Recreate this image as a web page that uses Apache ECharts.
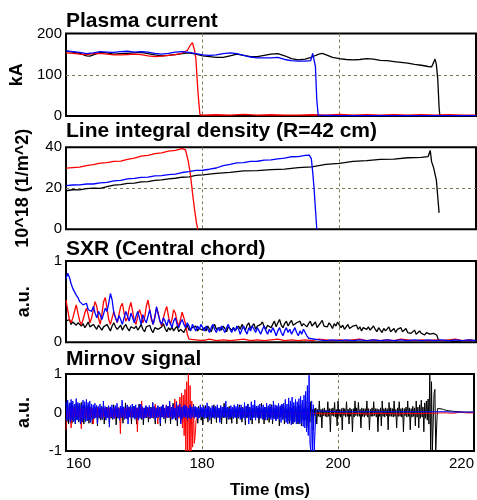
<!DOCTYPE html>
<html><head><meta charset="utf-8">
<script src="https://cdn.jsdelivr.net/npm/echarts@6/dist/echarts.min.js"></script>
<style>html,body{margin:0;padding:0;background:#fff}#c{width:477px;height:500px}</style>
</head><body><div id="c"></div>
<script>
// ---------- DATA ----------
const xTicks = [160, 180, 200, 220];
const panelTitles = ['Plasma current', 'Line integral density (R=42 cm)', 'SXR (Central chord)', 'Mirnov signal'];
const yNames = ['kA', '10^18 (1/m^2)', 'a.u.', 'a.u.'];
const xName = 'Time (ms)';

// Plasma current (kA): [time ms, value]
const ipBlack = [[160,158],[160.5,156],[161,155],[162,152],[163,146],[163.5,145],[164,148],[165,154],[166,153],[167,150],[168,151],[169,152],[170,153],[171,154],[172,151],[173,148],[174,146],[175,147],[176,149],[177,151],[178,153],[179,150],[180,146],[181,144],[182,142],[183,142],[184,146],[185,150],[186,147],[187,144],[188,144],[189,147],[190,150],[191,151],[192,146],[193,139],[194,136],[195,138],[196,143],[197,150],[197.5,152],[198,149],[199,142],[200,139],[201,137],[202,136],[203,137],[204,139],[205,138],[206,135],[207,134],[208,132],[209,130],[210,128],[211,125],[212,123],[213,120],[213.5,119],[213.8,130],[214,138],[214.2,125],[214.4,90],[214.6,20],[214.7,2],[216,1],[218,1],[220,1]];
const ipRed = [[160,153],[161,152],[162,150],[163,149],[164,151],[165,152],[166,150],[167,148],[168,148],[169,149],[170,150],[171,149],[172,146],[173,144],[174,145],[175,147],[176,149],[177,152],[177.8,160],[178.2,172],[178.5,178],[178.8,160],[179,140],[179.3,60],[179.6,3],[180,2],[182,3],[184,2],[186,4],[188,2],[190,3],[192,2],[194,2],[196,3],[198,2],[200,4],[202,2],[204,3],[206,2],[208,3],[210,2],[212,3],[214,2],[216,3],[218,2],[220,2]];
const ipBlue = [[160,158],[161,156],[162,154],[163,151],[164,153],[165,156],[166,155],[167,154],[168,156],[169,157],[170,155],[171,156],[172,155],[173,152],[174,150],[175,152],[176,155],[177,156],[178,154],[179,151],[180,148],[181,147],[182,148],[183,151],[184,153],[185,151],[186,147],[187,143],[188,141],[189,141],[190,141],[191,142],[192,137],[193,134],[194,133],[195,133],[195.8,134],[196.1,152],[196.3,156],[196.5,120],[196.7,40],[196.9,2],[200,1],[205,1],[210,1],[215,1],[220,1]];

// Line integral density (10^18 1/m^2)
const neBlack = [[160,18.8],[161,19.3],[162,19.2],[163,19.8],[164,20.1],[165,20.0],[166,20.8],[167,21.5],[168,21.8],[169,22.4],[170,22.5],[171,23.1],[172,23.3],[173,23.9],[174,24.1],[175,24.6],[176,24.9],[177,25.4],[178,25.6],[179,26.3],[180,26.5],[182,27.3],[184,27.8],[186,28.5],[188,28.6],[190,29.1],[192,29.4],[194,30.1],[196,30.5],[198,31.7],[200,32.2],[202,33.1],[204,33.5],[206,34.1],[208,34.2],[210,34.9],[212,35.1],[213,35.5],[213.3,38.5],[213.5,33],[213.8,30],[214.2,24],[214.4,16],[214.6,8]];
const neRed = [[160,29.8],[161,30.1],[162,30.3],[163,31.1],[164,31.5],[165,32.3],[166,32.5],[167,33.1],[168,33.3],[169,34.1],[170,34.7],[171,35.7],[172,36.1],[173,36.9],[174,37.3],[175,38.1],[176,38.5],[177,39.3],[177.5,38.7],[177.9,33],[178.2,27],[178.5,18],[178.8,10],[179.1,3],[179.3,0]];
const neBlue = [[160,21.3],[161,21.6],[162,21.7],[163,22.1],[164,22.1],[165,22.6],[166,22.9],[167,23.6],[168,23.9],[169,24.6],[170,24.8],[171,25.3],[172,25.5],[173,26.1],[174,26.2],[175,26.7],[176,26.9],[177,27.7],[178,28.1],[179,28.7],[180,28.8],[181,29.3],[182,29.9],[183,31.1],[184,31.7],[185,32.4],[186,32.5],[187,33.1],[188,33.2],[189,33.7],[190,33.9],[191,34.4],[192,34.7],[193,35.4],[194,35.5],[195,36.1],[195.6,36.2],[195.9,34.5],[196.1,28],[196.3,20],[196.5,10],[196.7,0]];

// SXR (a.u.) sampled every 0.25 ms from 160 ms; tails sampled every 1 ms
const sxrRed = [.52,.40,.28,.24,.30,.38,.46,.36,.26,.22,.28,.36,.42,.34,.24,.30,.40,.50,.44,.30,.22,.34,.50,.55,.42,.28,.22,.30,.38,.30,.24,.34,.44,.48,.36,.26,.30,.42,.49,.38,.26,.22,.32,.40,.34,.24,.30,.44,.52,.40,.28,.22,.32,.42,.36,.26,.20,.30,.38,.44,.32,.22,.28,.40,.36,.26,.20,.28,.37,.30,.22,.10,.04];
const sxrRedTail = [.03,.02,.04,.02,.03,.02,.03,.04,.02,.03,.02,.03,.04,.02,.03,.02,.03,.02,.04,.03,.02,.03,.02,.03,.04,.02,.03,.02,.03,.02,.04,.03,.02,.03,.02,.03,.02,.03,.04,.02,.03,.02];
const sxrBlue = [.78,.85,.80,.72,.66,.62,.58,.55,.50,.52,.46,.44,.48,.40,.42,.38,.44,.36,.30,.38,.34,.28,.35,.42,.38,.48,.60,.52,.36,.30,.25,.33,.28,.22,.30,.38,.32,.26,.36,.30,.24,.32,.38,.30,.22,.34,.28,.24,.32,.40,.30,.22,.30,.44,.34,.26,.22,.30,.26,.20,.28,.24,.18,.26,.30,.22,.18,.24,.28,.22,.18,.24,.20,.14,.22,.18,.14,.20,.16,.22,.18,.14,.20,.16,.12,.18,.22,.16,.12,.18,.14,.20,.16,.12,.18,.22,.16,.12,.18,.14,.20,.16,.10,.16,.20,.14,.10,.18,.14,.20,.16,.12,.18,.14,.10,.16,.20,.14,.10,.16,.12,.18,.14,.08,.14,.18,.12,.08,.14,.18,.12,.16,.10,.14,.18,.12,.08,.14,.10,.16,.12,.08,.05,.03];
const sxrBlueTail = [.03,.02,.03,.02,.03,.02,.03,.02,.03,.02,.03,.02,.03,.02,.03,.02,.03,.02,.03,.02,.03,.02,.03,.02];
const sxrBlack = [.26,.24,.28,.22,.25,.27,.21,.24,.26,
 .20,.23,.18,.21,.25,.19,.17,.22,.20,.16,.21,.18,
 .15,.19,.17,.22,.18,.14,.20,.24,.19,.16,.18,.21,.15,.19,.22,.17,.14,.19,.21,.17,
 .20,.15,.18,.22,.16,.13,.19,.17,.21,.15,.12,.18,.20,.16,.14,.19,.23,.17,.13,.18,
 .15,.19,.14,.17,.20,.13,.16,.18,.12,.17,.21,.15,.13,.18,.16,.20,.14,.17,.19,.15,
 .18,.14,.20,.16,.13,.19,.22,.16,.14,.18,.15,.20,.17,.13,.19,.21,.15,.18,.14,.17,
 .20,.16,.22,.18,.15,.21,.24,.17,.19,.23,.16,.20,.18,.22,.25,.19,.16,.21,.23,.18,
 .22,.26,.19,.24,.28,.21,.18,.23,.26,.20,.24,.27,.21,.19,.24,.22,.26,.20,.23,.25,
 .19,.23,.26,.20,.22,.25,.18,.21,.24,.27,.20,.22,.19,.24,.21,.17,.23,.20,.25,.21,
 .18,.21,.16,.19,.22,.17,.15,.20,.18,.21,.16,.19,.14,.18,.20,.16,.19,.15,.17,.20,
 .16,.13,.18,.15,.12,.17,.14,.16,.19,.13,.15,.17,.12,.16,.14,.18,.13,.15,.17,.12,
 .14,.11,.13,.15,.10,.12,.14,.11,.13,.09,.12,.14,.10,.12,.11,.13,.09,.03];
const sxrBlackTail = [.02,.02,.01,.02,.02,.02];

// Mirnov (a.u.) sampled every 0.125 ms from 160 ms (one row = 1 ms); tails listed separately
const mirBlack = [
 .2,-.25,.18,-.3,.22,-.2,.25,-.28,
 .18,-.22,.2,-.3,.24,-.18,.2,-.25,
 .22,-.2,.26,-.24,.18,-.3,.2,-.22,
 .15,-.2,.18,-.28,.12,-.18,.15,-.3,
 .1,-.16,.14,-.12,.18,-.35,.12,-.15,
 .1,-.2,.16,-.12,.14,-.3,.1,-.15,
 .14,-.12,.16,-.28,.12,-.15,.1,-.18,
 .2,-.12,.14,-.32,.1,-.15,.12,-.2,
 .16,-.12,.1,-.28,.12,-.15,.25,-.12,
 .12,-.18,.15,-.12,.1,-.3,.14,-.12,
 .16,-.14,.1,-.3,.12,-.15,.22,-.12,
 .1,-.18,.14,-.32,.12,-.1,.16,-.14,
 .1,-.25,.12,-.15,.14,-.12,.26,-.15,
 .1,-.3,.12,-.14,.16,-.12,.1,-.35,
 .14,-.12,.2,-.16,.1,-.28,.12,-.14,
 .16,-.12,.1,-.3,.14,-.15,.24,-.12,
 .1,-.2,.12,-.35,.16,-.12,.1,-.18,
 .14,-.3,.12,-.15,.18,-.12,.1,-.26,
 .12,-.14,.16,-.3,.1,-.12,.22,-.15,
 .14,-.12,.1,-.28,.16,-.14,.12,-.2,
 .1,-.32,.14,-.12,.18,-.15,.1,-.25,
 .16,-.12,.12,-.3,.1,-.14,.2,-.12,
 .12,-.26,.14,-.12,.1,-.18,.16,-.3,
 .1,-.14,.24,-.12,.12,-.3,.14,-.12,
 .16,-.18,.1,-.28,.12,-.14,.18,-.12,
 .1,-.3,.14,-.15,.2,-.12,.12,-.25,
 .14,-.12,.1,-.32,.16,-.14,.22,-.12,
 .12,-.2,.14,-.3,.1,-.12,.18,-.15,
 .16,-.12,.12,-.28,.1,-.15,.24,-.14,
 .1,-.3,.14,-.12,.16,-.2,.12,-.26,
 .14,-.12,.2,-.3,.12,-.15,.1,-.2,
 .16,-.14,.12,-.35,.14,-.12,.2,-.18,
 .12,-.3,.16,-.15,.1,-.22,.14,-.28,
 .18,-.2,.12,-.3,.16,-.25,.2,-.22,
 .14,-.3,.2,-.25,.16,-.35,.22,-.2,
 .1,-.2,.3,-.35,.12,-.4,.1,-.25,
 .28,-.12,.08,-.45,.1,-.08,.12,-.3,
 .08,-.1,.3,-.12,.08,-.4,.1,-.08,
 .12,-.1,.06,-.12,.28,-.1,.1,-.5,
 .1,-.08,.12,-.1,.26,-.12,.08,-.35,
 .3,-.1,.08,-.12,.1,-.45,.12,-.08,
 .1,-.12,.28,-.1,.08,-.3,.12,-.1,
 .08,-.5,.1,-.12,.3,-.08,.12,-.1,
 .26,-.1,.08,-.4,.12,-.1,.1,-.12,
 .1,-.08,.3,-.12,.1,-.45,.08,-.1,
 .12,-.1,.28,-.08,.1,-.12,.1,-.5,
 .08,-.1,.12,-.35,.3,-.1,.1,-.12,
 .12,-.08,.1,-.45,.26,-.1,.12,-.1,
 .1,-.12,.3,-.1,.08,-.4,.12,-.1,
 .28,-.1,.1,-.12,.12,-.5,.1,-.08,
 .14,-.12,.3,-.1,.12,-.45,.1,-.12,
 .16,-.1,.12,-.35,.3,-.12,.14,-.4,
 .2,-.15,.32,-.12,.14,-.5,.25,-.15,
 .3,-.2,.35,-.3,1,-1,.8,-1,
 -1,.5,.6,-1,-.4,.1,.12];
const mirBlackTail = [.1,.08,.05,.04,.03,.02,.02,.01,.01,.01,.01];
const mirRed = [
 -.45,.1,-.12,.08,-.1,.12,-.4,.1,
 -.1,.14,-.12,.1,-.08,.12,-.1,.08,
 -.12,.1,-.42,.1,-.12,.14,-.1,.08,
 -.12,.1,-.14,.12,-.1,.14,-.12,.1,
 -.3,.1,-.12,.08,-.1,.14,-.12,.1,
 -.12,.1,-.14,.08,-.12,.1,-.14,.12,
 -.1,.12,-.12,.1,-.14,.12,-.1,.08,
 -.12,.1,-.14,.12,-.1,.14,-.12,.1,
 -.55,.12,-.1,.08,-.12,.1,-.14,.12,
 -.1,.14,-.12,.1,-.12,.08,-.1,.12,
 -.12,.1,-.08,.12,-.5,.1,-.08,.12,
 -.1,.3,-.12,.1,-.14,.08,-.12,.1,
 -.1,.12,-.14,.08,-.12,.1,-.14,.12,
 -.1,.22,-.1,.12,-.3,.1,-.12,.1,
 .14,-.1,.12,-.14,.1,-.12,.2,-.14,
 .12,-.1,.2,-.14,.1,-.12,.16,-.1,
 .35,-.12,.3,-.2,.2,-.15,.4,-.25,
 .5,-.4,.45,-.6,.6,-1,.8,-1,
 1,-1,.7,-1,.3,-.9,.2,-.8,
 -.6,-.2,-.15,-.1,-.05];
const mirRedTail = [-.03,-.02,-.03,-.04,-.02,-.03,-.03,-.02,-.04,-.03,-.02,-.03,-.03,-.04,-.02,-.03,-.03,-.02,-.04,-.03,-.02,-.03,-.03,-.02,-.04,-.03,-.02,-.03,-.03,-.04,-.02,-.03,-.03,-.02,-.02,-.01,-.01,-.02,.01,-.01,-.01];
const mirBlue = [
 .28,-.22,.32,-.18,.25,-.26,.34,-.2,
 .3,-.24,.22,-.28,.36,-.2,.26,-.22,
 .24,-.3,.2,-.25,.32,-.18,.28,-.24,
 .34,-.22,.26,-.2,.3,-.26,.22,-.18,
 .2,-.16,.24,-.14,.18,-.3,.16,-.12,
 .22,-.15,.14,-.18,.3,-.12,.16,-.2,
 .12,-.14,.18,-.38,.15,-.12,.2,-.16,
 .14,-.16,.18,-.12,.24,-.14,.12,-.2,
 .16,-.14,.32,-.12,.15,-.18,.12,-.16,
 .2,-.3,.14,-.12,.18,-.15,.22,-.14,
 .16,-.18,.2,-.14,.12,-.2,.18,-.16,
 .22,-.14,.15,-.18,.12,-.15,.18,-.12,
 .14,-.12,.18,-.16,.12,-.14,.25,-.12,
 .16,-.2,.12,-.14,.18,-.12,.14,-.28,
 .16,-.12,.2,-.14,.12,-.16,.18,-.12,
 .16,-.14,.3,-.12,.14,-.18,.2,-.16,
 .12,-.14,.26,-.2,.16,-.12,.22,-.3,
 .14,-.16,.18,-.12,.2,-.14,.16,-.18,
 .12,-.14,.2,-.16,.14,-.12,.18,-.14,
 .16,-.12,.14,-.18,.12,-.14,.2,-.12,
 .14,-.12,.18,-.16,.12,-.14,.25,-.12,
 .16,-.2,.12,-.14,.18,-.12,.14,-.16,
 .16,-.12,.2,-.14,.12,-.26,.18,-.12,
 .14,-.12,.16,-.14,.3,-.12,.14,-.18,
 .12,-.14,.18,-.12,.14,-.16,.2,-.14,
 .16,-.14,.22,-.12,.14,-.18,.2,-.16,
 .12,-.14,.26,-.2,.16,-.12,.22,-.3,
 .14,-.16,.28,-.18,.2,-.14,.32,-.2,
 .16,-.14,.18,-.16,.22,-.14,.16,-.18,
 .2,-.16,.14,-.2,.24,-.16,.18,-.14,
 .22,-.18,.16,-.2,.3,-.16,.2,-.22,
 .18,-.16,.24,-.2,.18,-.26,.22,-.18,
 .24,-.2,.34,-.26,.22,-.3,.38,-.22,
 .3,-.32,.4,-.28,.26,-.24,.34,-.3,
 .28,-.26,.36,-.3,.42,-.28,.32,-.36,
 .45,-.4,.55,-.5,.7,-.6,.97,-.8,
 -1,.3,-1,.2,-1,-.5,.05];
const mirBlueTail = [.04,.03,.03,.02,.02,.02,.02,.02,.02,.02,.02,.02,.02,.02,.02,.02,.02,.02,.02,.02,.01,.01,.01,.01];

// ---------- BUILD ----------
function seq(t0, dt, vals) { return vals.map((v, i) => [Math.round((t0 + i * dt) * 1000) / 1000, v]); }

const FONT = 'Liberation Sans, Arial, Helvetica, sans-serif';
const gridTops = [33.5, 147.3, 261, 374];
const gridH = [82.5, 82, 81.3, 83];
const yCfg = [
  {min: 0, max: 200, interval: 100, split: true},
  {min: 0, max: 40, interval: 20, split: true},
  {min: 0, max: 1, interval: 1, split: false},
  {min: -1, max: 1, interval: 1, split: false}
];
const nameGaps = [30, 34, 33, 33];
const dash = {color: '#7d7d55', width: 1, type: [3, 3]};

const grids = gridTops.map((t, i) => ({left: 66, width: 410, top: t, height: gridH[i], show: true, borderColor: '#000', borderWidth: 2, backgroundColor: 'transparent'}));
const xAxes = gridTops.map((t, i) => ({
  type: 'value', gridIndex: i, min: xTicks[0], max: xTicks[xTicks.length - 1], interval: 20,
  axisLine: {show: false}, axisTick: {show: false},
  axisLabel: {show: i === 3, color: '#000', fontSize: 15, fontFamily: FONT, margin: 5, alignMinLabel: 'left', alignMaxLabel: 'right'},
  splitLine: {show: true, showMinLine: false, showMaxLine: false, lineStyle: dash},
  name: i === 3 ? xName : '', nameLocation: 'middle', nameGap: 31,
  nameTextStyle: {color: '#000', fontSize: 17, fontWeight: 'bold', fontFamily: FONT}
}));
const yAxes = yCfg.map((c, i) => ({
  type: 'value', gridIndex: i, min: c.min, max: c.max, interval: c.interval,
  axisLine: {show: false}, axisTick: {show: false},
  axisLabel: {color: '#000', fontSize: 15, fontFamily: FONT, margin: 4},
  splitLine: {show: c.split, showMinLine: false, showMaxLine: false, lineStyle: dash},
  name: yNames[i], nameLocation: 'middle', nameRotate: 90, nameGap: nameGaps[i],
  nameTextStyle: {color: '#000', fontSize: 18, fontWeight: 'bold', fontFamily: FONT}
}));

function line(data, color, gi, w) {
  return {type: 'line', xAxisIndex: gi, yAxisIndex: gi, data: data, showSymbol: false, symbol: 'none',
    lineStyle: {color: color, width: w}, itemStyle: {color: color}, animation: false, silent: true, clip: true};
}
const series = [
  line(ipBlack, '#000', 0, 1.3), line(ipRed, '#ff0000', 0, 1.3), line(ipBlue, '#0000ff', 0, 1.3),
  line(neBlack, '#000', 1, 1.3), line(neRed, '#ff0000', 1, 1.3), line(neBlue, '#0000ff', 1, 1.3),
  line(seq(160, .25, sxrBlack).concat(seq(215, 1, sxrBlackTail)), '#000', 2, 1.3),
  line(seq(160, .25, sxrRed).concat(seq(179, 1, sxrRedTail)), '#ff0000', 2, 1.3),
  line(seq(160, .25, sxrBlue).concat(seq(197, 1, sxrBlueTail)), '#0000ff', 2, 1.3),
  line(seq(160, .125, mirBlack).concat(seq(215, .5, mirBlackTail)), '#000', 3, 1),
  line(seq(160, .125, mirRed).concat(seq(180, 1, mirRedTail)), '#ff0000', 3, 1),
  line(seq(160, .125, mirBlue).concat(seq(197, 1, mirBlueTail)), '#0000ff', 3, 1)
];
const titleTops = [10.5, 120.5, 239, 349];
const titles = panelTitles.map((t, i) => ({text: t, left: 66, top: titleTops[i], padding: 0,
  textStyle: {color: '#000', fontSize: 21, fontWeight: 'bold', fontFamily: FONT}}));

const chart = echarts.init(document.getElementById('c'), null, {renderer: 'canvas'});
chart.setOption({animation: false, backgroundColor: '#fff', title: titles, grid: grids, xAxis: xAxes, yAxis: yAxes, series: series});
</script></body></html>
